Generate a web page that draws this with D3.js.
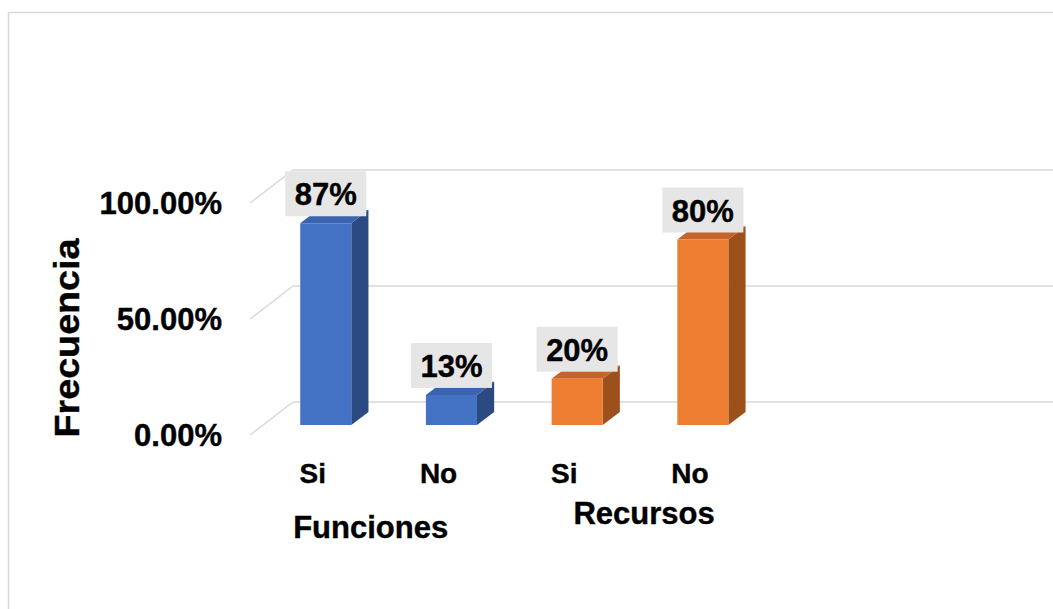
<!DOCTYPE html>
<html>
<head>
<meta charset="utf-8">
<script src="https://cdn.jsdelivr.net/npm/d3@7"></script>
<style>
  html, body { margin: 0; padding: 0; background: #ffffff; }
  svg { display: block; }
  text { font-family: "Liberation Sans", Arial, sans-serif; font-weight: bold; fill: #000; stroke: #000; stroke-width: 0.4px; }
</style>
</head>
<body>
<svg id="chart" width="1053" height="609"></svg>
<script>
// ---- data ----
const categories = ["Si", "No", "Si", "No"];
const groups = ["Funciones", "Recursos"];
const groupIndex = [0, 0, 1, 1];
const values = [0.87, 0.13, 0.20, 0.80];
const valueLabels = ["87%", "13%", "20%", "80%"];
const yTicks = [0, 0.5, 1.0];
const yTickLabels = ["0.00%", "50.00%", "100.00%"];
const axisTitle = "Frecuencia";

// ---- styles ----
const faceColors = [
  { front: "#4472c4", side: "#2c4a82", top: "#3b64ae" },
  { front: "#ed7d31", side: "#9c501c", top: "#c5642a" }
];

const svg = d3.select("#chart");

// chart border
svg.append("rect")
  .attr("x", 8.5).attr("y", 12.5)
  .attr("width", 1100).attr("height", 700)
  .attr("fill", "none").attr("stroke", "#d9d9d9").attr("stroke-width", 1.5);

// 3D projection parameters
const depthDX = 43, depthDY = -33;
const x = d3.scaleBand()
  .domain(d3.range(categories.length))
  .range([250, 250 + categories.length * 125.7])
  .paddingInner(0.594).paddingOuter(0.297);
const y = d3.scaleLinear().domain([0, 1]).range([435, 203]);
const proj = (px, v, d) => [px + d * depthDX, y(v) + d * depthDY];

// gridlines: side wall diagonal + back wall horizontal
const grid = svg.append("g");
yTicks.forEach(t => {
  const a = proj(250, t, 0), b = proj(250, t, 1);
  grid.append("line")
    .attr("x1", a[0]).attr("y1", a[1]).attr("x2", b[0]).attr("y2", b[1])
    .attr("stroke", "#d9d9d9").attr("stroke-width", 1.5);
  grid.append("line")
    .attr("x1", b[0]).attr("y1", b[1]).attr("x2", 1060).attr("y2", b[1])
    .attr("stroke", "#d9d9d9").attr("stroke-width", 1.5);
});

// y tick labels
svg.append("g").selectAll("text")
  .data(yTicks)
  .join("text")
  .attr("x", 222)
  .attr("y", d => y(d) + 11)
  .attr("text-anchor", "end")
  .style("font-size", "31px")
  .text((d, i) => yTickLabels[i]);

// axis title
svg.append("text")
  .attr("transform", "translate(79,338) rotate(-90)")
  .attr("text-anchor", "middle")
  .style("font-size", "35px")
  .attr("textLength", 199)
  .attr("lengthAdjust", "spacingAndGlyphs")
  .text(axisTitle);

// bars
const d0 = 0.3, d1 = 0.7;
const bars = svg.append("g");
values.forEach((v, i) => {
  const c = faceColors[groupIndex[i]];
  const xl = x(i), xr = x(i) + x.bandwidth();
  const fbl = proj(xl, 0, d0), fbr = proj(xr, 0, d0);
  const ftl = proj(xl, v, d0), ftr = proj(xr, v, d0);
  const bbr = proj(xr, 0, d1), btr = proj(xr, v, d1), btl = proj(xl, v, d1);
  const poly = pts => pts.map(p => p.join(",")).join(" ");
  bars.append("polygon").attr("points", poly([fbr, bbr, btr, ftr])).attr("fill", c.side);
  bars.append("polygon").attr("points", poly([ftl, ftr, btr, btl])).attr("fill", c.top);
  bars.append("polygon").attr("points", poly([fbl, fbr, ftr, ftl])).attr("fill", c.front);
});

// data labels
const lab = svg.append("g");
values.forEach((v, i) => {
  const cx = proj(x(i) + x.bandwidth() / 2, v, d0)[0];
  const top = proj(0, v, d0)[1];
  const bw = 81, bh = 45;
  lab.append("rect")
    .attr("x", cx - bw / 2).attr("y", top - 7 - bh)
    .attr("width", bw).attr("height", bh)
    .attr("fill", "#e7e6e6");
  lab.append("text")
    .attr("x", cx).attr("y", top - 7 - bh + 34)
    .attr("text-anchor", "middle")
    .style("font-size", "31px")
    .text(valueLabels[i]);
});

// category labels
svg.append("g").selectAll("text")
  .data(categories)
  .join("text")
  .attr("x", (d, i) => x(i) + x.bandwidth() / 2)
  .attr("y", y(0) + 48)
  .attr("text-anchor", "middle")
  .style("font-size", "28px")
  .text(d => d);

// group labels
const groupOffsets = [{ dx: -5, dy: 103 }, { dx: 17, dy: 89 }];
groups.forEach((g, gi) => {
  const idx = d3.range(categories.length).filter(i => groupIndex[i] === gi);
  const start = x(idx[0]) - x.step() * x.paddingInner() / 2;
  const end = x(idx[idx.length - 1]) + x.bandwidth() + x.step() * x.paddingInner() / 2;
  svg.append("text")
    .attr("x", (start + end) / 2 + groupOffsets[gi].dx)
    .attr("y", y(0) + groupOffsets[gi].dy)
    .attr("text-anchor", "middle")
    .style("font-size", "31px")
    .text(g);
});
</script>
</body>
</html>
